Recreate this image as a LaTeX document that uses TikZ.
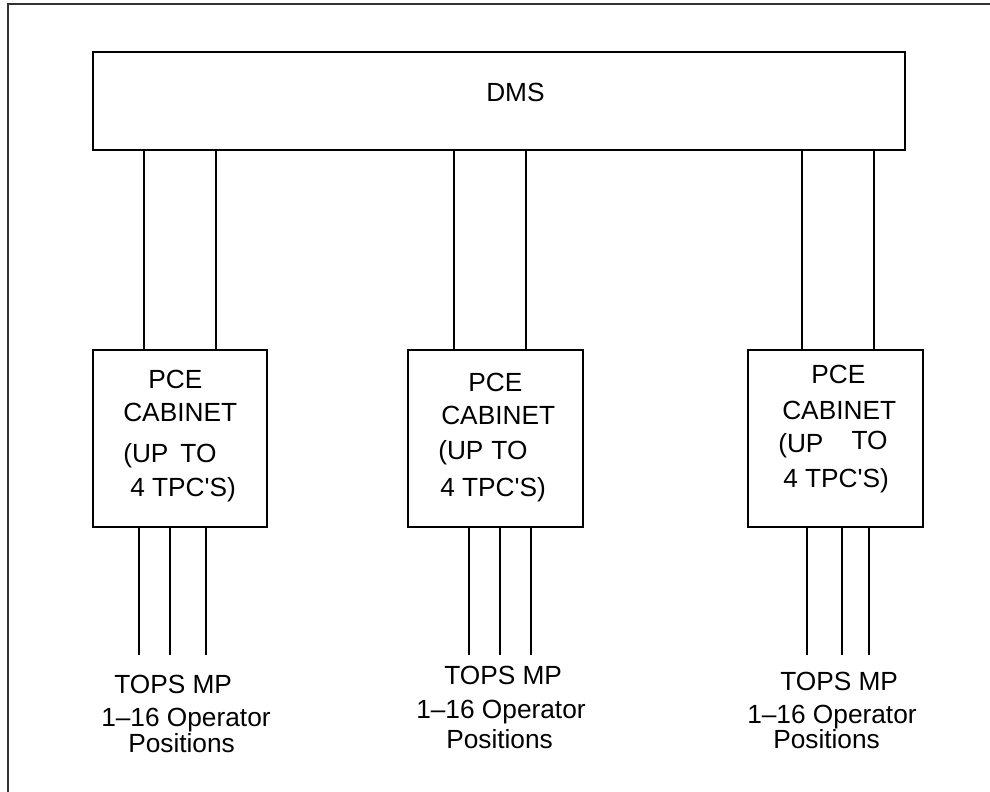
\documentclass[tikz,border=0pt]{standalone}
\usepackage{fontspec}
\setmainfont{Liberation Sans}[Ligatures=TeXOff]
\begin{document}
\begin{tikzpicture}[x=0.75pt,y=-0.75pt,
  box/.style={draw,line width=1.6pt,rectangle,inner sep=0pt},
  wire/.style={line width=1.5pt},
  lbl/.style={anchor=base west,inner sep=0pt,font=\fontsize{19.7}{24}\selectfont}]
\useasboundingbox (0,0) rectangle (990,792);
% frame
\draw[line width=1.1pt,black!80] (8,792) -- (8,4) -- (990,4);
% boxes
\node[box,minimum width=609pt,minimum height=73.5pt] (dms) at (499,101) {};
\node[lbl] (dmstxt) at (486,102) {DMS};
\node[box,minimum width=130.5pt,minimum height=132.75pt] (pce1) at (180,438.5) {};
\node[box,minimum width=131.25pt,minimum height=132.75pt] (pce2) at (495.5,438.5) {};
\node[box,minimum width=131.25pt,minimum height=132.75pt] (pce3) at (835.5,438.5) {};
% box texts
\node[lbl] (p1a) at (148,388) {PCE};
\node[lbl] (p1b) at (123,421) {CABINET};
\node[lbl] (p1c) at (123,462) {(UP\hspace{9pt}TO};
\node[lbl] (p1d) at (130,496) {4 TPC'S)};
\node[lbl] (p2a) at (468,391) {PCE};
\node[lbl] (p2b) at (441,424) {CABINET};
\node[lbl] (p2c) at (438,459) {(UP\hspace{6pt}TO};
\node[lbl] (p2d) at (440,496) {4 TPC'S)};
\node[lbl] (p3a) at (811,383) {PCE};
\node[lbl] (p3b) at (782,419) {CABINET};
\node[lbl] (p3c) at (778,452) {(UP\hspace{21pt}\raisebox{2.2pt}{TO}};
\node[lbl] (p3d) at (783,487) {4 TPC'S)};
% bottom labels
\node[lbl] (t1a) at (114,693) {TOPS MP};
\node[lbl] (t1b) at (101,726) {1–16 Operator};
\node[lbl] (t1c) at (128,752) {Positions};
\node[lbl] (t2a) at (444,684) {TOPS MP};
\node[lbl] (t2b) at (416,718) {1–16 Operator};
\node[lbl] (t2c) at (446,748) {Positions};
\node[lbl] (t3a) at (780,690) {TOPS MP};
\node[lbl] (t3b) at (747,723) {1–16 Operator};
\node[lbl] (t3c) at (773,748) {Positions};
% upper wires
\foreach \b/\xa/\xb in {pce1/144/216, pce2/454/526, pce3/802/874}{
  \draw[wire] (dms.south -| \xa,0) -- (\b.north -| \xa,0);
  \draw[wire] (dms.south -| \xb,0) -- (\b.north -| \xb,0);
}
% lower wires
\coordinate (lend) at (0,655);
\foreach \b/\xa/\xb/\xc in {pce1/139/170/206, pce2/469/500/531, pce3/807/842/869}{
  \draw[wire] (\b.south -| \xa,0) -- (lend -| \xa,0);
  \draw[wire] (\b.south -| \xb,0) -- (lend -| \xb,0);
  \draw[wire] (\b.south -| \xc,0) -- (lend -| \xc,0);
}
\end{tikzpicture}
\end{document}
